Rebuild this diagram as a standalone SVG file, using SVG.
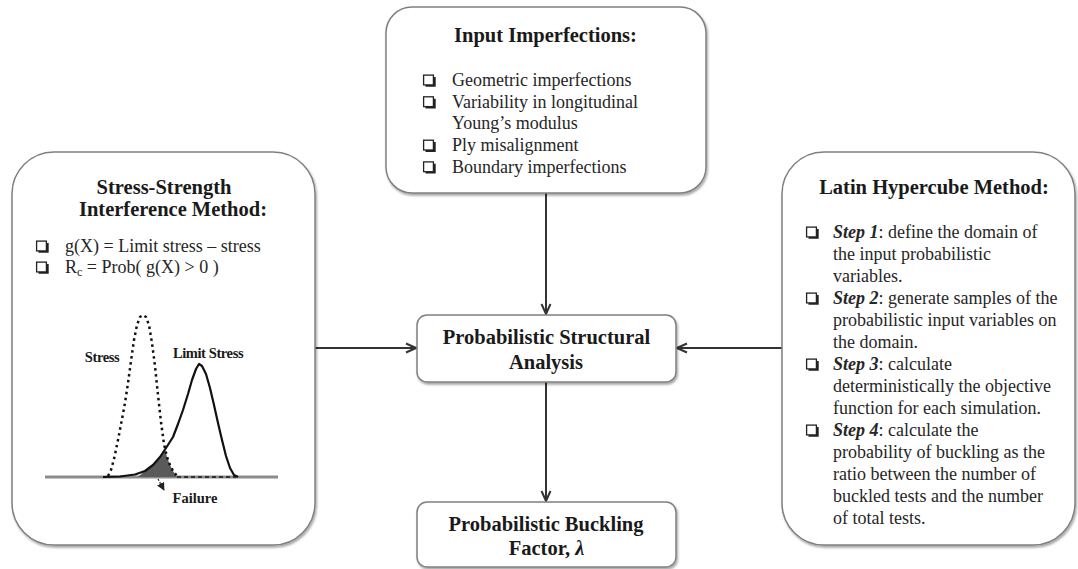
<svg xmlns="http://www.w3.org/2000/svg" width="1078" height="569" viewBox="0 0 1078 569">
<defs>
<style>
.box{fill:#fff;stroke:#808080;stroke-width:1.5;filter:url(#sh)}
.t{font-family:"Liberation Serif","Times New Roman",serif;fill:#262626}
.title{font-size:20.5px;font-weight:bold;text-anchor:middle;fill:#1a1a1a}
.item{font-size:18px}
.si{font-weight:bold;font-style:italic}
.lbl{font-size:14.5px;font-weight:bold;fill:#1a1a1a}
.conn{stroke:#333;stroke-width:2;fill:none}
</style>
<filter id="sh" x="-10%" y="-10%" width="125%" height="130%">
<feDropShadow dx="1.2" dy="2" stdDeviation="1.2" flood-color="#000" flood-opacity="0.35"/>
</filter>
<marker id="ah" viewBox="0 0 12 12" refX="11" refY="6" markerWidth="12" markerHeight="12" markerUnits="userSpaceOnUse" orient="auto">
<path d="M1,1.5 L11,6 L1,10.5" fill="none" stroke="#333" stroke-width="2" stroke-linejoin="miter"/>
</marker>
<marker id="fh" viewBox="0 0 10 10" refX="9" refY="5" markerWidth="8" markerHeight="8" markerUnits="userSpaceOnUse" orient="auto">
<path d="M0,0 L10,5 L0,10 Z" fill="#222"/>
</marker>
<g id="bul">
<path d="M2.5,11.2 H11.6 V2.5" fill="none" stroke="#222" stroke-width="2.2"/>
<rect x="0.6" y="0.6" width="9.8" height="9.8" fill="#fff" stroke="#222" stroke-width="1.3"/>
</g>
</defs>
<rect width="1078" height="569" fill="#fff"/>

<g id="connectors">
<line class="conn" x1="546" y1="193" x2="546" y2="314" marker-end="url(#ah)"/>
<line class="conn" x1="315" y1="348" x2="416" y2="348" marker-end="url(#ah)"/>
<line class="conn" x1="782" y1="348" x2="677" y2="348" marker-end="url(#ah)"/>
<line class="conn" x1="546" y1="382" x2="546" y2="501" marker-end="url(#ah)"/>
</g>

<g id="input-imperfections">
<rect class="box" x="386" y="7" width="320" height="186" rx="26"/>
<text class="t title" x="545.5" y="42">Input Imperfections:</text>
<use href="#bul" x="423" y="74.5"/>
<use href="#bul" x="423" y="96.2"/>
<use href="#bul" x="423" y="139.6"/>
<use href="#bul" x="423" y="161.3"/>
<text class="t item" x="452" y="86">Geometric imperfections</text>
<text class="t item" x="452" y="107.7">Variability in longitudinal</text>
<text class="t item" x="452" y="129.4">Young’s modulus</text>
<text class="t item" x="452" y="151.1">Ply misalignment</text>
<text class="t item" x="452" y="172.8">Boundary imperfections</text>
</g>

<g id="stress-strength">
<rect class="box" x="12" y="152" width="303" height="393" rx="42"/>
<text class="t title" x="164" y="194">Stress-Strength</text>
<text class="t title" x="173" y="216">Interference Method:</text>
<use href="#bul" x="36" y="240.5"/>
<use href="#bul" x="36" y="261.5"/>
<text class="t item" x="65" y="252">g(X) = Limit stress – stress</text>
<text class="t item" x="65" y="273">R<tspan font-size="12" dy="3">c</tspan><tspan dy="-3"> = Prob( g(X) &gt; 0 )</tspan></text>
<line x1="45" y1="477" x2="278" y2="477" stroke="#8c8c8c" stroke-width="3"/>
<line x1="177" y1="477" x2="236" y2="477" stroke="#333" stroke-width="2" stroke-dasharray="4 3"/>
<path d="M138,477 L145,471 L153,465 L160,457 L165,450 L167,457 L170,465 L173,471 L177,477 Z" fill="#5a5a5a"/>
<path d="M103,477 L120,476.5 L135,474.5 L145,471 L153,465 L160,457 L166,448 L173,437 L178,424 L183,410 L188,394 L192,380 L196,369 L199,364 L202,366 L206,374 L210,388 L214,405 L218,423 L222,440 L226,456 L230,468 L234,475 L238,477" fill="none" stroke="#111" stroke-width="2.2" stroke-linejoin="round"/>
<path d="M108,476 L111,470 L114,459 L118,440 L122,419 L125,403 L128,383 L131,361 L134,340 L137,325 L140,317 L143,315 L146,317 L149,325 L152,343 L155,366 L158,395 L161,422 L164,444 L167,457 L170,465 L173,471 L177,476" fill="none" stroke="#111" stroke-width="2.5" stroke-dasharray="2.5 3.5"/>
<line x1="158" y1="479" x2="164" y2="490" stroke="#333" stroke-width="1.3" stroke-dasharray="2 1.5" marker-end="url(#fh)"/>
<text class="t lbl" x="102" y="362" text-anchor="middle" letter-spacing="-0.4">Stress</text>
<text class="t lbl" x="208" y="358" text-anchor="middle" letter-spacing="-0.4">Limit Stress</text>
<text class="t lbl" x="195" y="503" text-anchor="middle" font-size="14">Failure</text>
</g>

<g id="latin-hypercube">
<rect class="box" x="782" y="152" width="293" height="393" rx="42"/>
<text class="t title" x="934" y="194">Latin Hypercube Method:</text>
<use href="#bul" x="806" y="226.5"/>
<use href="#bul" x="806" y="292.5"/>
<use href="#bul" x="806" y="358.5"/>
<use href="#bul" x="806" y="424.5"/>
<text class="t item" x="833" y="238"><tspan class="si">Step 1</tspan>: define the domain of</text>
<text class="t item" x="833" y="260">the input probabilistic</text>
<text class="t item" x="833" y="282">variables.</text>
<text class="t item" x="833" y="304"><tspan class="si">Step 2</tspan>: generate samples of the</text>
<text class="t item" x="833" y="326">probabilistic input variables on</text>
<text class="t item" x="833" y="348">the domain.</text>
<text class="t item" x="833" y="370"><tspan class="si">Step 3</tspan>: calculate</text>
<text class="t item" x="833" y="392">deterministically the objective</text>
<text class="t item" x="833" y="414">function for each simulation.</text>
<text class="t item" x="833" y="436"><tspan class="si">Step 4</tspan>: calculate the</text>
<text class="t item" x="833" y="458">probability of buckling as the</text>
<text class="t item" x="833" y="480">ratio between the number of</text>
<text class="t item" x="833" y="502">buckled tests and the number</text>
<text class="t item" x="833" y="524">of total tests.</text>
</g>

<g id="structural-analysis">
<rect class="box" x="417" y="315" width="259" height="67" rx="10"/>
<text class="t title" x="546.5" y="344">Probabilistic Structural</text>
<text class="t title" x="546" y="369">Analysis</text>
</g>

<g id="buckling-factor">
<rect class="box" x="417" y="502" width="259" height="65" rx="10"/>
<text class="t title" x="546" y="531">Probabilistic Buckling</text>
<text class="t title" x="546.5" y="555">Factor, <tspan font-style="italic">λ</tspan></text>
</g>
</svg>
